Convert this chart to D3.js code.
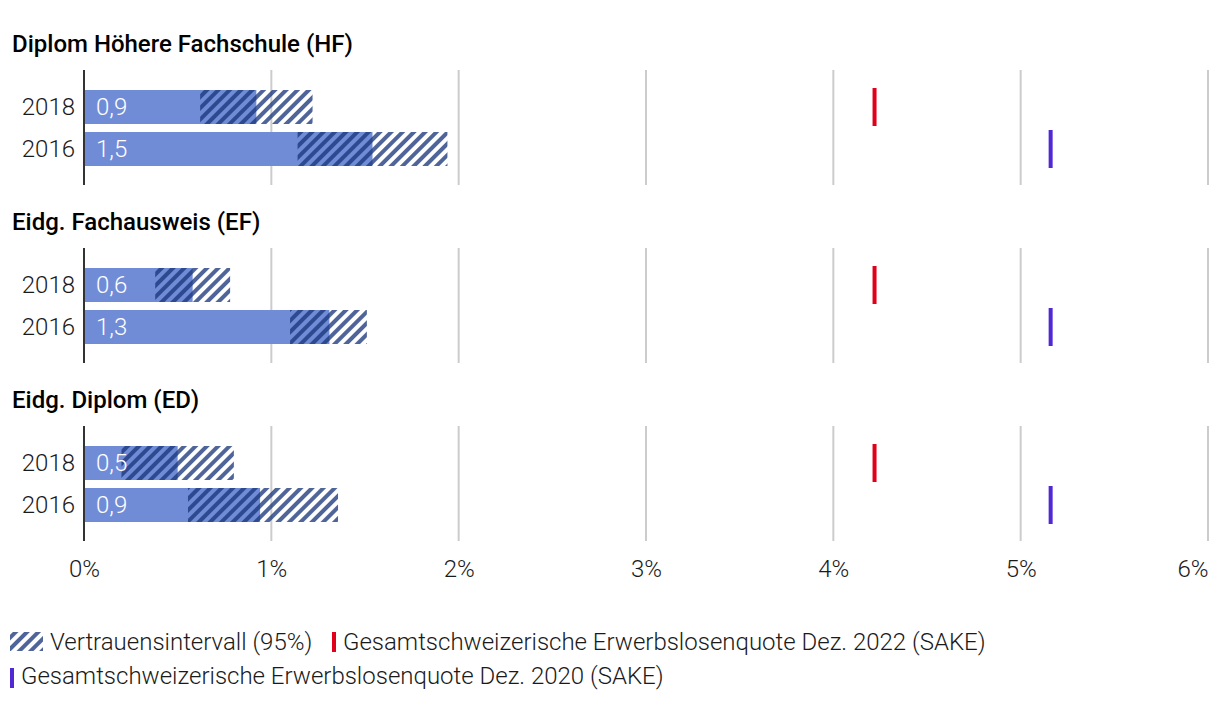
<!DOCTYPE html>
<html>
<head>
<meta charset="utf-8">
<script src="https://cdn.jsdelivr.net/npm/d3@7"></script>
<style>
  body { margin: 0; background: #fff; }
  svg { display: block; font-family: Roboto, "Noto Sans", sans-serif; }
</style>
</head>
<body>
<svg id="chart" width="1220" height="708"></svg>
<script>
// ---- data ----
const groupTitles = ["Diplom Höhere Fachschule (HF)", "Eidg. Fachausweis (EF)", "Eidg. Diplom (ED)"];
const years = ["2018", "2016"];
const values2018 = [0.92, 0.58, 0.50];
const values2016 = [1.54, 1.31, 0.94];
const ciLow2018 = [0.62, 0.38, 0.20];
const ciHigh2018 = [1.22, 0.78, 0.80];
const ciLow2016 = [1.14, 1.10, 0.555];
const ciHigh2016 = [1.94, 1.51, 1.356];
const refRate2022 = 4.22;
const refRate2020 = 5.16;
const xTicks = [0, 1, 2, 3, 4, 5, 6];
const legendLabels = ["Vertrauensintervall (95%)",
  "Gesamtschweizerische Erwerbslosenquote Dez. 2022 (SAKE)",
  "Gesamtschweizerische Erwerbslosenquote Dez. 2020 (SAKE)"];

// ---- styles ----
const barColor = "#718cd7";
const stripeColor = "rgba(24,52,121,0.76)";
const redColor = "#e0001b";
const purpleColor = "#5128d6";
const gridColor = "#cccccc";
const textColor = "#1a1a1a";
const fs = 24;

const svg = d3.select("#chart");
const defs = svg.append("defs");
const pat = defs.append("pattern")
  .attr("id", "hatch")
  .attr("patternUnits", "userSpaceOnUse")
  .attr("width", 8).attr("height", 8)
  .attr("patternTransform", "rotate(45)");
pat.append("rect").attr("x", 0).attr("y", 0).attr("width", 4).attr("height", 8)
  .attr("fill", stripeColor);

const x = d3.scaleLinear().domain([0, 6]).range([84, 1208]);

const panelStep = 178;
const fmt = v => d3.format(".1f")(v).replace(".", ",");

groupTitles.forEach((title, gi) => {
  const g = svg.append("g").attr("transform", `translate(0,${gi * panelStep})`);
  g.append("text").attr("x", 12).attr("y", 52)
    .attr("font-size", fs).attr("font-weight", 500).attr("fill", "#000")
    .text(title);

  // gridlines
  g.selectAll("line.grid").data(xTicks.filter(t => t > 0)).join("line")
    .attr("x1", d => x(d)).attr("x2", d => x(d))
    .attr("y1", 70).attr("y2", 185)
    .attr("stroke", gridColor).attr("stroke-width", 2);

  const rows = [
    { year: "2018", v: values2018[gi], lo: ciLow2018[gi], hi: ciHigh2018[gi], ref: refRate2022, col: redColor },
    { year: "2016", v: values2016[gi], lo: ciLow2016[gi], hi: ciHigh2016[gi], ref: refRate2020, col: purpleColor }
  ];
  const yPos = d3.scalePoint().domain(years).range([90, 132]);
  const bh = 34;

  g.selectAll("rect.bar").data(rows).join("rect")
    .attr("x", x(0)).attr("y", d => yPos(d.year))
    .attr("width", d => x(d.v) - x(0)).attr("height", bh)
    .attr("fill", barColor);

  g.selectAll("rect.ci").data(rows).join("rect")
    .attr("x", d => x(d.lo)).attr("y", d => yPos(d.year))
    .attr("width", d => x(d.hi) - x(d.lo)).attr("height", bh)
    .attr("fill", "url(#hatch)");

  g.selectAll("rect.ref").data(rows).join("rect")
    .attr("x", d => x(d.ref) - 2).attr("y", d => yPos(d.year) - 2)
    .attr("width", 4).attr("height", 38)
    .attr("fill", d => d.col);

  g.selectAll("text.val").data(rows).join("text")
    .attr("x", x(0) + 12).attr("y", d => yPos(d.year) + bh / 2)
    .attr("dy", "0.35em")
    .attr("font-size", fs).attr("font-weight", 300).attr("fill", "#fff")
    .text(d => fmt(d.v));

  g.selectAll("text.yr").data(rows).join("text")
    .attr("x", 75).attr("y", d => yPos(d.year) + bh / 2)
    .attr("dy", "0.35em").attr("text-anchor", "end")
    .attr("font-size", fs).attr("font-weight", 300).attr("fill", textColor)
    .text(d => d.year);

  // y axis line
  g.append("line").attr("x1", x(0)).attr("x2", x(0)).attr("y1", 70).attr("y2", 185)
    .attr("stroke", "#333").attr("stroke-width", 2);
});

// x axis labels
const ax = svg.append("g").attr("transform", "translate(0,577)");
const axis = d3.axisBottom(x).tickValues(xTicks).tickSize(0).tickFormat(d => d + "%");
ax.call(axis);
ax.select(".domain").remove();
ax.selectAll("text")
  .attr("font-family", "Roboto").attr("font-size", fs).attr("font-weight", 300)
  .attr("fill", textColor).attr("y", 0).attr("dy", 0)
  .attr("text-anchor", (d, i) => i === xTicks.length - 1 ? "end" : "middle");

// legend
const lg = svg.append("g");
lg.append("rect").attr("x", 10).attr("y", 632).attr("width", 33).attr("height", 19)
  .attr("fill", "url(#hatch)");
lg.append("text").attr("x", 50).attr("y", 650).attr("font-size", fs).attr("font-weight", 300)
  .attr("fill", textColor).text(legendLabels[0]);
lg.append("rect").attr("x", 332).attr("y", 632).attr("width", 4).attr("height", 20).attr("fill", redColor);
lg.append("text").attr("x", 343).attr("y", 650).attr("font-size", fs).attr("font-weight", 300)
  .attr("fill", textColor).text(legendLabels[1]);
lg.append("rect").attr("x", 10).attr("y", 668).attr("width", 4).attr("height", 20).attr("fill", purpleColor);
lg.append("text").attr("x", 21).attr("y", 684).attr("font-size", fs).attr("font-weight", 300)
  .attr("fill", textColor).text(legendLabels[2]);
</script>
</body>
</html>
